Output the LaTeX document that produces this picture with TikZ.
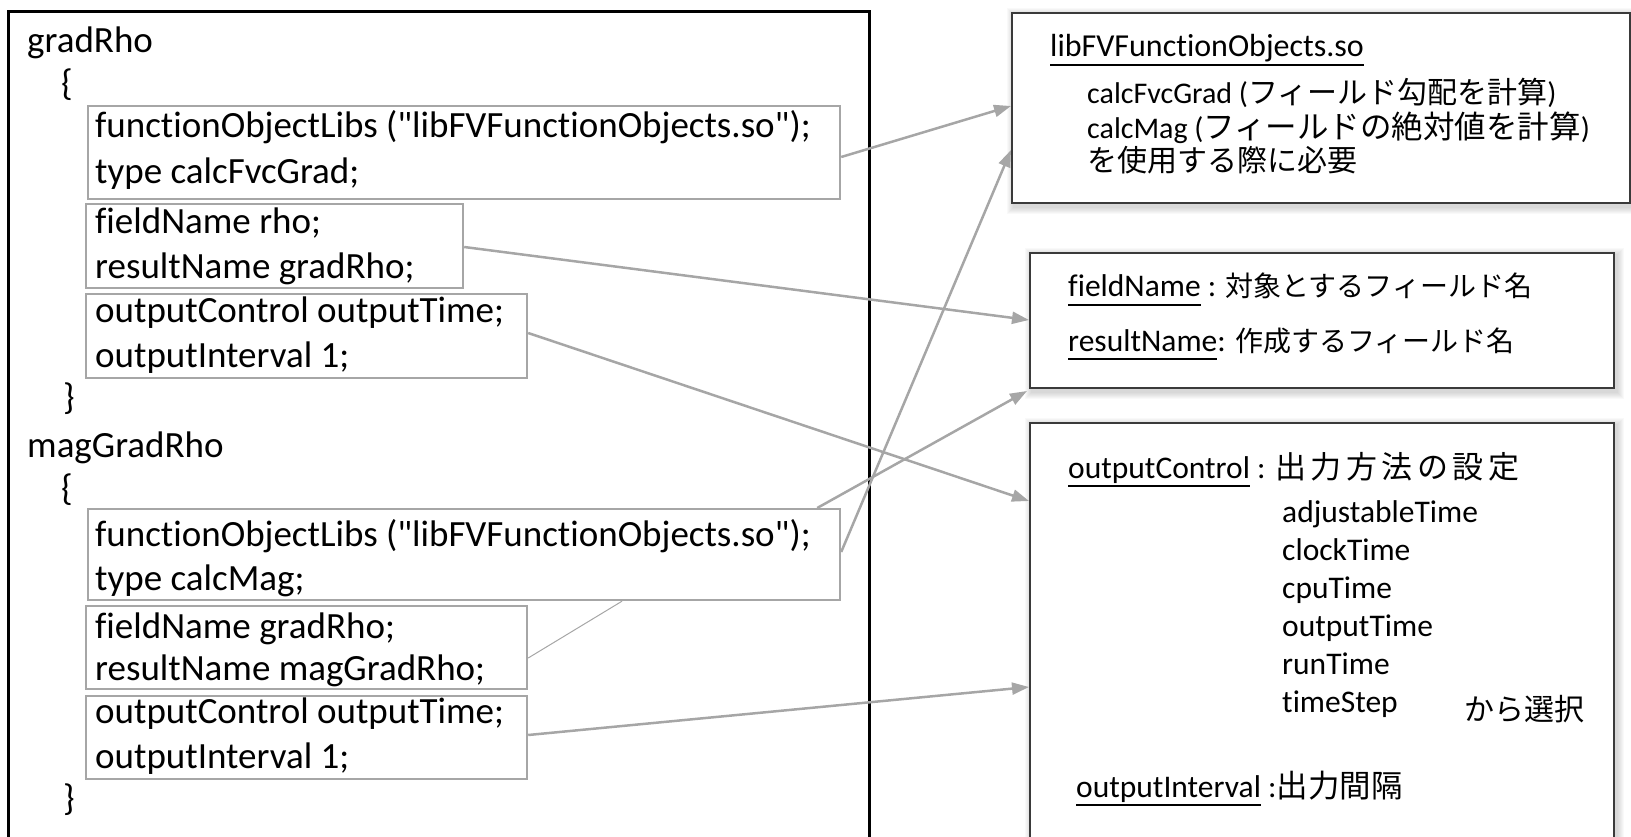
\documentclass[tikz,border=0pt]{standalone}
\usepackage{fontspec}
\setmainfont{Carlito}[Ligatures={TeXOff,NoCommon}]
\newfontfamily\jp{Noto Sans CJK JP}
\usetikzlibrary{arrows.meta}
\pgfdeclarelayer{bg}
\pgfsetlayers{bg,main}
\definecolor{lgray}{HTML}{A6A6A6}
\definecolor{rborder}{HTML}{3A3A3A}
\newcommand{\ulbox}[1]{\setbox0\hbox{#1}\rlap{\rule[-0.27em]{\wd0}{1.6pt}}\box0\relax}
\newcommand{\jps}[2]{{\jp\fontsize{#1}{#1}\selectfont #2}}
\newcommand{\gp}{\hspace{4.5pt}}
\begin{document}
\begin{tikzpicture}[x=1pt,y=-1pt,
  code/.style={font=\fontsize{37}{44}\selectfont, anchor=base west, inner sep=0pt},
  rtext/.style={font=\fontsize{30}{36}\selectfont, anchor=base west, inner sep=0pt},
  rtextb/.style={font=\fontsize{31.5}{38}\selectfont, anchor=base west, inner sep=0pt},
  ibox/.style={draw=lgray, line width=2.2pt, anchor=north west, inner sep=0pt},
  rbox/.style={draw=rborder, line width=2pt, fill=white, anchor=north west, inner sep=0pt},
  conn/.style={draw=lgray, line width=2.5pt, -{Triangle[length=17pt,width=12pt]}},
  thin/.style={draw=lgray, line width=1pt},
]
\useasboundingbox (0,0) rectangle (1631,837);
\clip (0,0) rectangle (1631,837);

% main panel
\node[draw=black, line width=3pt, anchor=north west, inner sep=0pt,
      minimum width=861pt, minimum height=880pt] (main) at (7,10) {};

% inner boxes
\node[ibox, minimum width=752pt, minimum height=93pt] (b1) at (87,105) {};
\node[ibox, minimum width=377pt, minimum height=84pt] (b2) at (85,203) {};
\node[ibox, minimum width=441pt, minimum height=84pt] (b3) at (85,293) {};
\node[ibox, minimum width=752pt, minimum height=91pt] (b4) at (87,508) {};
\node[ibox, minimum width=441pt, minimum height=83pt] (b5) at (85,605) {};
\node[ibox, minimum width=441pt, minimum height=83pt] (b6) at (85,695) {};

% code text
\node[code] (g1) at (27,53) {gradRho};
\node[code] (ob1) at (61,96) {\{};
\node[code] (t1a) at (95,138) {functionObjectLibs ("libFVFunctionObjects.so");};
\node[code] (t1b) at (95,184) {type calcFvcGrad;};
\node[code] (t2a) at (95,234) {fieldName rho;};
\node[code] (t2b) at (95,278) {resultName gradRho;};
\node[code] (t3a) at (95,322) {outputControl outputTime;};
\node[code] (t3b) at (95,367) {outputInterval 1;};
\node[code] (cb1) at (63,409) {\}};
\node[code] (g2) at (27,457) {magGradRho};
\node[code] (ob2) at (61,500) {\{};
\node[code] (t4a) at (95,546) {functionObjectLibs ("libFVFunctionObjects.so");};
\node[code] (t4b) at (95,590) {type calcMag;};
\node[code] (t5a) at (95,638) {fieldName gradRho;};
\node[code] (t5b) at (95,680) {resultName magGradRho;};
\node[code] (t6a) at (95,723) {outputControl outputTime;};
\node[code] (t6b) at (95,768) {outputInterval 1;};
\node[code] (cb2) at (63,810) {\}};

% right boxes
\node[rbox, minimum width=618pt, minimum height=190pt] (r1) at (1011,12) {};
\node[rbox, minimum width=584pt, minimum height=135pt] (r2) at (1029,252) {};
\node[rbox, minimum width=584pt, minimum height=460pt] (r3) at (1029,422) {};

% soft shadows behind the right boxes
\begin{pgfonlayer}{bg}
\foreach \n in {r1,r2,r3}{
  \foreach \i in {1,...,7}{
    \fill[black,opacity=0.022] ([shift={(-\i+3,-\i+3)}]\n.north west) rectangle ([shift={(\i+2,\i+3)}]\n.south east);
  }
}
\end{pgfonlayer}

% right texts
\node[rtext, font=\fontsize{32}{38}\selectfont] (r1a) at (1050,57) {\ulbox{libFVFunctionObjects.so}};
\node[rtext] (r1b) at (1087,104) {calcFvcGrad ({\jp フィールド勾配を計算})};
\node[rtext] (r1c) at (1087,139) {calcMag (\jps{31.5}{フィールドの絶対値を計算})};
\node[rtext] (r1d) at (1087,172) {{\jp を使用する際に必要}};

\node[rtextb] (r2a) at (1068,297) {\ulbox{fieldName} : \jps{28}{対象とするフィールド名}};
\node[rtextb] (r2b) at (1068,351) {\ulbox{resultName}: \jps{28}{作成するフィールド名}};

\node[rtextb] (r3a) at (1068,478) {\ulbox{outputControl} : \jps{31}{出\gp 力\gp 方\gp 法\gp の\gp 設\gp 定}};
\node[rtextb] (l1) at (1282,522) {adjustableTime};
\node[rtextb] (l2) at (1282,560) {clockTime};
\node[rtextb] (l3) at (1282,598) {cpuTime};
\node[rtextb] (l4) at (1282,636) {outputTime};
\node[rtextb] (l5) at (1282,674) {runTime};
\node[rtextb] (l6) at (1282,712) {timeStep};
\node[rtextb] (sel) at (1464,720) {\jps{30}{から選択}};
\node[rtextb] (r3b) at (1076,797) {\ulbox{outputInterval} :{\jp 出力間隔}};

% connectors
\draw[conn] ([yshift=-52pt]b1.north east) -- ([yshift=-94pt]r1.north west);
\draw[conn] ([yshift=-44pt]b2.north east) -- ([yshift=-68pt]r2.north west);
\draw[conn] ([yshift=-40pt]b3.north east) -- ([yshift=-79pt]r3.north west);
\draw[conn] ([xshift=-24pt]b4.north east) -- ([xshift=-2pt,yshift=-2pt]r2.south west);
\draw[conn] ([yshift=-44pt]b4.north east) -- ([yshift=-138pt]r1.north west);
\draw[thin] ([yshift=-53pt]b5.north east) -- ([xshift=535pt]b4.south west);
\draw[conn] ([yshift=-40pt]b6.north east) -- ([yshift=-265pt]r3.north west);
\end{tikzpicture}
\end{document}
